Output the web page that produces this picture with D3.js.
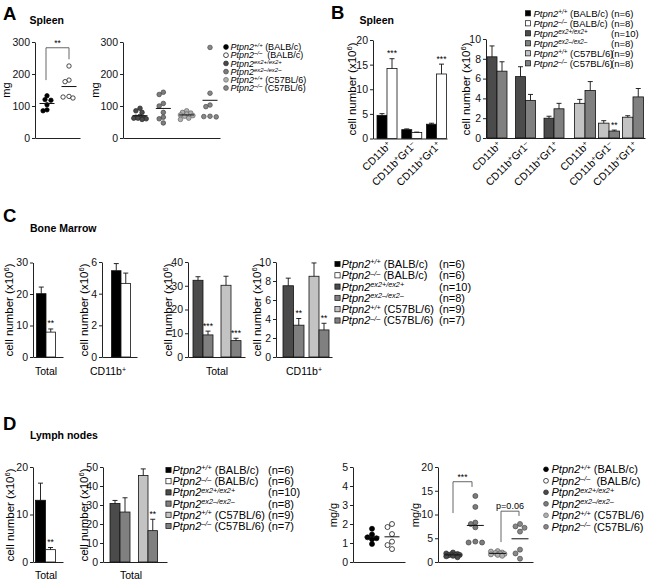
<!DOCTYPE html>
<html><head><meta charset="utf-8">
<script src="https://cdn.jsdelivr.net/npm/d3@7"></script>
<style>body{margin:0;background:#fff}svg{display:block}</style>
</head><body>
<script>
// ================= DATA =================
const genoSup    = ["+/+", "–/–", "ex2+/ex2+", "ex2–/ex2–", "+/+", "–/–"];
const genoStrain = [" (BALB/c)", "\u00a0 (BALB/c)", "", "", " (C57BL/6)", " (C57BL/6)"];
const genoStrainB = [" (BALB/c)", " (BALB/c)", "", "", " (C57BL/6)", " (C57BL/6)"];
const nSpleen = [6, 8, 10, 8, 9, 8];
const nBM     = [6, 6, 10, 8, 9, 7];
const nLN     = [6, 6, 10, 8, 9, 7];

// A: spleen weight (mg)
const spleenWtBALB = [120, 118, 132, 104, 85, 88];
const spleenKoBALB = [225, 181, 176, 130, 125, 128];
const spleenEx2p   = [85, 80, 93, 65, 63, 62, 60, 58, 62, 68];
const spleenEx2m   = [143, 136, 108, 100, 80, 65, 60, 47];
const spleenWtC57  = [85, 80, 78, 75, 72, 70, 68, 62, 58];
const spleenKoC57  = [283, 140, 103, 98, 68, 66, 67];
const spleenTicks  = [0, 100, 200, 300];

// B: spleen cell numbers (x10^6)
const cellTypes = ["CD11b^+", "CD11b^+^Gr1^–", "CD11b^+^Gr1^+"];
const sbWtBALB = [4.7, 1.8, 2.9],  sbWtBALBsem = [0.35, 0.15, 0.2];
const sbKoBALB = [14.2, 1.2, 13.1], sbKoBALBsem = [2.0, 0.1, 2.0];
const sbKoBALBsig = ["***", "", "***"];
const sbEx2p = [8.2, 6.2, 2.0],   sbEx2psem = [1.1, 1.0, 0.2];
const sbEx2m = [6.75, 3.8, 2.95], sbEx2msem = [0.95, 0.6, 0.55];
const sbWtC57 = [3.5, 1.5, 2.1],  sbWtC57sem = [0.4, 0.25, 0.15];
const sbKoC57 = [4.8, 0.7, 4.15], sbKoC57sem = [0.9, 0.1, 0.85];
const sbKoC57sig = ["", "**", ""];
const sbTicks1 = [0, 5, 10, 15, 20];
const sbTicks2 = [0, 2, 4, 6, 8, 10];

// C: bone marrow cell numbers (x10^6)
const bmTotalBALB = [20.1, 7.9],  bmTotalBALBsem = [2.1, 1.0], bmTotalBALBsig = ["", "**"];
const bmCD11bBALB = [5.45, 4.65], bmCD11bBALBsem = [0.45, 0.65];
const bmTotalEx2 = [32.3, 9.3],   bmTotalEx2sem = [1.5, 1.6],  bmTotalEx2sig = ["", "***"];
const bmTotalC57 = [30.2, 6.9],   bmTotalC57sem = [3.8, 1.0],  bmTotalC57sig = ["", "***"];
const bmCD11bEx2 = [7.5, 3.35],   bmCD11bEx2sem = [0.8, 0.7],  bmCD11bEx2sig = ["", "**"];
const bmCD11bC57 = [8.5, 2.85],   bmCD11bC57sem = [1.4, 0.7],  bmCD11bC57sig = ["", "**"];

// D: lymph nodes
const lnTotalBALB = [13.0, 2.6],  lnTotalBALBsem = [3.6, 0.45], lnTotalBALBsig = ["", "**"];
const lnTotalEx2 = [30.8, 26.3],  lnTotalEx2sem = [1.6, 7.5];
const lnTotalC57 = [45.5, 16.5],  lnTotalC57sem = [3.5, 6.0],  lnTotalC57sig = ["", "**"];
const lnWtBALB = [1.3, 1.25, 1.75, 1.45, 1.2, 0.95];
const lnKoBALB = [2.0, 1.84, 1.47, 1.07, 0.89, 0.68];
const lnEx2p  = [2.0, 1.8, 1.7, 1.6, 1.5, 1.5, 1.4, 1.2, 1.0, 1.3];
const lnEx2m  = [13.9, 11.6, 8.3, 8.0, 7.3, 4.3, 4.1, 4.1];
const lnWtC57 = [2.2, 2.0, 1.9, 1.8, 1.7, 1.6, 1.5, 2.3, 1.3];
const lnKoC57 = [8.0, 7.5, 7.2, 6.4, 2.6, 1.8, 0.7];

// ================= STYLE =================
const FONT = '"Liberation Sans", Arial, Helvetica, sans-serif';
const barFill = ["#000000", "#ffffff", "#4b4b4b", "#808080", "#c3c3c3", "#808080"];
const dotFill = ["#000000", "#ffffff", "#4a4a4a", "#7c7c7c", "#b0b0b0", "#888888"];
const dotStroke = ["#000000", "#000000", "#2a2a2a", "#444444", "#666666", "#4a4a4a"];

const svg = d3.select("body").append("svg").attr("width", 662).attr("height", 582)
  .attr("font-family", FONT);

function richParts(sel, parts, fs) {
  let up = false;
  parts.forEach(([t, st]) => {
    if (t === "") return;
    const ts = sel.append("tspan").text(t);
    if (st.includes("i")) ts.attr("font-style", "italic");
    if (st.includes("s")) {
      ts.attr("font-size", fs * 0.66);
      if (!up) { ts.attr("dy", -fs * 0.33); up = true; }
    } else if (up) { ts.attr("dy", fs * 0.33); up = false; }
  });
}
function markup(str) { return str.split("^").map((s, i) => [s, i % 2 ? "s" : "n"]); }
function genoParts(i, strains) {
  return [["Ptpn2", "i"], [genoSup[i], "is"], [strains[i], "n"]];
}

function text(x, y, str, fs, opts = {}) {
  const t = svg.append("text").attr("x", x).attr("y", y).attr("font-size", fs).attr("fill", "#000");
  if (opts.bold) t.attr("font-weight", "bold");
  if (opts.anchor) t.attr("text-anchor", opts.anchor);
  t.text(str);
  return t;
}

function yAxis(x, y0, y1, ticks, fs = 10.5) {
  const y = d3.scaleLinear().domain([0, ticks[ticks.length - 1]]).range([y0, y1]);
  const g = svg.append("g").attr("transform", `translate(${x},0)`)
    .call(d3.axisLeft(y).tickValues(ticks).tickFormat(d3.format("~g")).tickSize(3).tickSizeOuter(0).tickPadding(2));
  g.attr("font-family", FONT).attr("font-size", fs);
  g.select(".domain").attr("stroke", "#222");
  g.selectAll(".tick line").attr("stroke", "#222");
  g.selectAll(".tick text").attr("fill", "#111");
  return y;
}
function xAxis(x0, x1, y0) {
  const x = d3.scaleLinear().range([x0, x1]);
  const g = svg.append("g").attr("transform", `translate(0,${y0})`)
    .call(d3.axisBottom(x).tickValues([]).tickSizeOuter(0));
  g.select(".domain").attr("stroke", "#222");
}
function yLabel(cx, cy, parts, fs) {
  const t = svg.append("text").attr("transform", `translate(${cx},${cy}) rotate(-90)`)
    .attr("text-anchor", "middle").attr("font-size", fs).attr("dy", fs * 0.35);
  richParts(t, parts, fs);
}
const cellLabel = [["cell number (x10", "n"], ["6", "s"], [")", "n"]];

// bars: one group of adjacent bars centred at cx
function barGroup(y, cx, bw, means, sems, genos, sigs) {
  const n = means.length;
  means.forEach((m, i) => {
    const x = cx + (i - n / 2) * bw;
    svg.append("rect").attr("x", x).attr("y", y(m)).attr("width", bw).attr("height", y(0) - y(m))
      .attr("fill", barFill[genos[i]]).attr("stroke", "#111").attr("stroke-width", 0.8);
    const bx = x + bw / 2, top = y(m + sems[i]);
    svg.append("line").attr("x1", bx).attr("x2", bx).attr("y1", y(m)).attr("y2", top)
      .attr("stroke", "#111").attr("stroke-width", 0.9);
    svg.append("line").attr("x1", bx - 2.5).attr("x2", bx + 2.5).attr("y1", top).attr("y2", top)
      .attr("stroke", "#111").attr("stroke-width", 0.9);
    if (sigs && sigs[i]) text(bx, top - 2.5, sigs[i], 8.5, { anchor: "middle" });
  });
}

// scatter column (bounded beeswarm)
function scatterCol(y, cx, vals, geno, r, half, maxOff) {
  const order = vals.map((v, i) => i).sort((a, b) => vals[b] - vals[a]);
  const step = r * 0.9;
  const cands = [0];
  for (let k = 1; k * step <= maxOff; k++) cands.push(-k * step, k * step);
  const placed = [];
  order.forEach(i => {
    const py = y(vals[i]);
    let best = cx, bestD = -1;
    for (const off of cands) {
      const px = cx + off;
      const dmin = placed.length ? d3.min(placed, p => Math.hypot(p[0] - px, p[1] - py)) : Infinity;
      if (dmin >= 2 * r * 0.92) { best = px; break; }
      if (dmin > bestD) { bestD = dmin; best = px; }
    }
    placed.push([best, py]);
  });
  placed.forEach(([px, py]) => svg.append("circle").attr("cx", px).attr("cy", py).attr("r", r)
    .attr("fill", dotFill[geno]).attr("stroke", dotStroke[geno]).attr("stroke-width", 0.7));
  const m = d3.mean(vals);
  svg.append("line").attr("x1", cx - half).attr("x2", cx + half).attr("y1", y(m)).attr("y2", y(m))
    .attr("stroke", "#111").attr("stroke-width", 1);
}
function bracket(y, xl, xr, vl, vr, vt, label, fs, dyText) {
  svg.append("path").attr("d", `M${xl},${y(vl)}V${y(vt)}H${xr}V${y(vr)}`)
    .attr("fill", "none").attr("stroke", "#555").attr("stroke-width", 0.9);
  text((xl + xr) / 2, y(vt) - dyText, label, fs, { anchor: "middle" });
}

function legend(x, y0, step, fs, marker, ns, nx, tOff, strains) {
  genoSup.forEach((s, i) => {
    const cy = y0 + i * step;
    if (marker === "circle")
      svg.append("circle").attr("cx", x).attr("cy", cy).attr("r", 2.4)
        .attr("fill", dotFill[i]).attr("stroke", dotStroke[i]).attr("stroke-width", 0.7);
    else
      svg.append("rect").attr("x", x - 2.6).attr("y", cy - 2.6).attr("width", 5.2).attr("height", 5.2)
        .attr("fill", barFill[i]).attr("stroke", "#111").attr("stroke-width", 0.7);
    const t = svg.append("text").attr("x", x + tOff).attr("y", cy + fs * 0.36).attr("font-size", fs)
      .style("white-space", "pre");
    richParts(t, genoParts(i, strains), fs);
    if (ns) text(nx, cy + fs * 0.36, `(n=${ns[i]})`, fs);
  });
}
function catLabel(cx, y, str, fs) {
  const t = svg.append("text").attr("x", cx).attr("y", y).attr("text-anchor", "middle").attr("font-size", fs);
  richParts(t, markup(str), fs);
}
function rotLabel(x, y, str, fs) {
  const t = svg.append("text").attr("transform", `translate(${x},${y}) rotate(-45)`)
    .attr("text-anchor", "end").attr("font-size", fs);
  richParts(t, markup(str), fs);
}

// ================= PANEL A =================
text(3, 19.5, "A", 18.5, { bold: true });
text(29.5, 23.5, "Spleen", 10.5, { bold: true });
{
  const y = yAxis(35, 138, 42, spleenTicks);
  xAxis(35, 80, 138);
  yLabel(6, 90, [["mg", "n"]], 11);
  const x = d3.scalePoint().domain(["wt", "ko"]).range([47, 69]);
  scatterCol(y, x("wt"), spleenWtBALB, 0, 2.2, 7.5, 7);
  scatterCol(y, x("ko"), spleenKoBALB, 1, 2.2, 7.5, 7);
  bracket(y, 46, 69, 181, 246, 282, "**", 8.5, 2);
}
{
  const y = yAxis(123, 138, 42, spleenTicks);
  xAxis(123, 220, 138);
  yLabel(95, 90, [["mg", "n"]], 11);
  const x = d3.scalePoint().domain(["ex2p", "ex2m", "wtC", "koC"]).range([140, 210]);
  scatterCol(y, x("ex2p"), spleenEx2p, 2, 2.3, 7.5, 7.5);
  scatterCol(y, x("ex2m"), spleenEx2m, 3, 2.3, 7.5, 7.5);
  scatterCol(y, x("wtC"), spleenWtC57, 4, 2.3, 7.5, 7.5);
  scatterCol(y, x("koC"), spleenKoC57, 5, 2.3, 7.5, 7.5);
}
legend(226, 47, 8.2, 9, "circle", null, 0, 4.5, genoStrain);

// ================= PANEL B =================
text(331, 19, "B", 18.5, { bold: true });
text(359.5, 23.5, "Spleen", 10.5, { bold: true });
{
  const y = yAxis(373, 138.5, 40, sbTicks1);
  xAxis(373, 447, 138.5);
  yLabel(352, 89, cellLabel, 11.5);
  const x = d3.scalePoint().domain(cellTypes).range([387, 436.5]);
  cellTypes.forEach((c, i) => {
    barGroup(y, x(c), 10, [sbWtBALB[i], sbKoBALB[i]], [sbWtBALBsem[i], sbKoBALBsem[i]], [0, 1], ["", sbKoBALBsig[i]]);
    rotLabel(x(c) + 5, 146, c, 10.5);
  });
}
{
  const y = yAxis(486, 138, 39, sbTicks2);
  xAxis(486, 645, 138);
  yLabel(466, 89, cellLabel, 11.5);
  const xa = d3.scalePoint().domain(cellTypes).range([497, 554]);
  const xb = d3.scalePoint().domain(cellTypes).range([585, 633]);
  cellTypes.forEach((c, i) => {
    barGroup(y, xa(c), 10, [sbEx2p[i], sbEx2m[i]], [sbEx2psem[i], sbEx2msem[i]], [2, 3], null);
    barGroup(y, xb(c), 10.5, [sbWtC57[i], sbKoC57[i]], [sbWtC57sem[i], sbKoC57sem[i]], [4, 5], ["", sbKoC57sig[i]]);
    rotLabel(xa(c) + 5, 146, c, 10.5);
    rotLabel(xb(c) + 5, 146, c, 10.5);
  });
}
legend(528, 13.3, 10, 9.5, "square", nSpleen, 611, 5.5, genoStrainB);

// ================= PANEL C =================
text(3, 222, "C", 18.5, { bold: true });
text(30, 231.5, "Bone Marrow", 10.5, { bold: true });
{
  const y = yAxis(33, 357, 262.5, [0, 10, 20, 30]);
  xAxis(33, 63, 357);
  yLabel(9, 310, cellLabel, 11.5);
  const x = d3.scalePoint().domain(["Total"]).range([36, 56]);
  barGroup(y, x("Total"), 9.5, bmTotalBALB, bmTotalBALBsem, [0, 1], bmTotalBALBsig);
  catLabel(46, 375, "Total", 10.5);
}
{
  const y = yAxis(102, 357, 262, [0, 2, 4, 6]);
  xAxis(102, 137, 357);
  yLabel(84, 310, cellLabel, 11.5);
  const x = d3.scalePoint().domain(["CD11b^+"]).range([111, 131]);
  barGroup(y, x("CD11b^+"), 9.5, bmCD11bBALB, bmCD11bBALBsem, [0, 1], null);
  catLabel(108, 375, "CD11b^+", 10.5);
}
{
  const y = yAxis(188, 357, 262, [0, 10, 20, 30, 40]);
  xAxis(188, 245, 357);
  yLabel(168, 310, cellLabel, 11.5);
  const x = d3.scalePoint().domain(["ex2", "C57"]).range([203, 231]);
  barGroup(y, x("ex2"), 10, bmTotalEx2, bmTotalEx2sem, [2, 3], bmTotalEx2sig);
  barGroup(y, x("C57"), 10, bmTotalC57, bmTotalC57sem, [4, 5], bmTotalC57sig);
  catLabel(217, 375, "Total", 10.5);
}
{
  const y = yAxis(276, 357, 262, [0, 2, 4, 6, 8, 10]);
  xAxis(276, 332, 357);
  yLabel(257, 310, cellLabel, 11.5);
  const x = d3.scalePoint().domain(["ex2", "C57"]).range([293.5, 319]);
  barGroup(y, x("ex2"), 10.5, bmCD11bEx2, bmCD11bEx2sem, [2, 3], bmCD11bEx2sig);
  barGroup(y, x("C57"), 10, bmCD11bC57, bmCD11bC57sem, [4, 5], bmCD11bC57sig);
  catLabel(304, 375, "CD11b^+", 10.5);
}
legend(337.5, 264, 11.3, 11, "square", nBM, 439, 4, genoStrainB);

// ================= PANEL D =================
text(3, 430, "D", 18.5, { bold: true });
text(30, 438.5, "Lymph nodes", 10.5, { bold: true });
{
  const y = yAxis(33, 562, 467, [0, 10, 20]);
  xAxis(33, 63, 562);
  yLabel(10, 515, cellLabel, 11.5);
  const x = d3.scalePoint().domain(["Total"]).range([35, 56]);
  barGroup(y, x("Total"), 10, lnTotalBALB, lnTotalBALBsem, [0, 1], lnTotalBALBsig);
  catLabel(46, 579, "Total", 10.5);
}
{
  const y = yAxis(103, 562, 467, [0, 10, 20, 30, 40, 50]);
  xAxis(103, 167, 562);
  yLabel(84, 515, cellLabel, 11.5);
  const x = d3.scalePoint().domain(["ex2", "C57"]).range([120, 148]);
  barGroup(y, x("ex2"), 10, lnTotalEx2, lnTotalEx2sem, [2, 3], null);
  barGroup(y, x("C57"), 9.5, lnTotalC57, lnTotalC57sem, [4, 5], lnTotalC57sig);
  catLabel(131, 579, "Total", 10.5);
}
legend(168.5, 470, 11.2, 11, "square", nLN, 268, 4, genoStrainB);
{
  const y = yAxis(353, 562, 467, [0, 1, 2, 3, 4, 5]);
  xAxis(353, 405, 562);
  yLabel(333, 515, [["mg/g", "n"]], 11);
  const x = d3.scalePoint().domain(["wt", "ko"]).range([372, 392]);
  scatterCol(y, x("wt"), lnWtBALB, 0, 2.5, 7.5, 7);
  scatterCol(y, x("ko"), lnKoBALB, 1, 2.5, 7.5, 7);
}
{
  const y = yAxis(438, 562, 467, [0, 5, 10, 15, 20]);
  xAxis(438, 533, 562);
  yLabel(415, 515, [["mg/g", "n"]], 11);
  const x = d3.scalePoint().domain(["ex2p", "ex2m", "wtC", "koC"]).range([453, 520]);
  scatterCol(y, x("ex2p"), lnEx2p, 2, 2.5, 8.5, 7);
  scatterCol(y, x("ex2m"), lnEx2m, 3, 2.5, 8.5, 7);
  scatterCol(y, x("wtC"), lnWtC57, 4, 2.5, 8.5, 7);
  scatterCol(y, x("koC"), lnKoC57, 5, 2.5, 8.5, 7);
  bracket(y, 453, 472, 10.3, 15.8, 16.9, "***", 8.5, 1.5);
  bracket(y, 501, 519, 4.2, 9.7, 10.7, "p=0.06", 9, 2);
}
legend(546, 469.3, 11.5, 11, "circle", null, 0, 5.5, genoStrain);
</script>
</body></html>
